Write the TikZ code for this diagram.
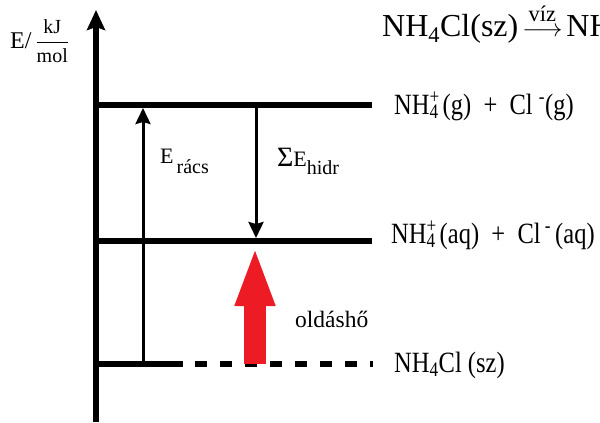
\documentclass[tikz,border=0pt]{standalone}
\usepackage{amsmath}
\usepackage{graphicx}
\usepackage{fontspec}
\setmainfont{Liberation Serif}
\usetikzlibrary{arrows.meta}
\definecolor{oldpiros}{RGB}{237,28,36}
\tikzset{
  tengely/.style={line width=6pt, -{Stealth[length=20pt, width=18pt, inset=3pt]}},
  szint/.style={line width=5.5pt},
  szaggatott/.style={line width=5.5pt, dash pattern=on 12pt off 13pt},
  nyil/.style={line width=3pt, -{Stealth[length=16pt, width=15pt, inset=2pt]}},
  oldnyil/.style={line width=22pt, color=oldpiros, -{Triangle[length=60pt, width=36pt]}},
  felirat/.style={anchor=base west, inner sep=0pt, font=\fontsize{22}{26}\selectfont},
  szintfelirat/.style={felirat, font=\fontsize{24.5}{28}\selectfont}
}
\newcommand{\nyujt}[1]{\scalebox{1}[1.2]{#1}}

\begin{document}
\begin{tikzpicture}[x=1pt, y=-1pt]
            \useasboundingbox (0,0) rectangle (600,423);

            % Tengely
            \coordinate (o) at (96,422);
            \coordinate (csucs) at (96,10);
            \draw [tengely] (o) -- (csucs);
            \node (egyseg) [anchor=base west, inner sep=0pt] at (10,48) {{\fontsize{24}{28}\selectfont E/}\hspace{4pt}{\fontsize{20}{24}\selectfont$\dfrac{\text{kJ}}{\text{mol}}$}};

            % Energiaszintek
            \coordinate (g1) at (96,105);
            \coordinate (g2) at (372,105);
            \coordinate (aq1) at (96,241);
            \coordinate (aq2) at (372,241);
            \coordinate (sz1) at (96,364);
            \coordinate (sz2) at (183,364);
            \coordinate (sz3) at (195,364);
            \coordinate (sz4) at (373,364);
            \draw [szint] (g1) -- (g2);
            \draw [szint] (aq1) -- (aq2);
            \draw [szint] (sz1) -- (sz2);
            \draw [szaggatott] (sz3) -- (sz4);

            % Feliratok
            \node (egyenlet) [anchor=base west, inner sep=0pt, font=\fontsize{32}{36}\selectfont] at (382,36) {NH\textsubscript{4}Cl(sz)\hspace{4pt}$\overset{\text{víz}}{\longrightarrow}$\hspace{4pt}NH};
            \node (gaz) [szintfelirat] at (394,114) {\nyujt{NH\rlap{\textsuperscript{+}}\textsubscript{4}\,(g) \ + \ Cl \textsuperscript{-}(g)}};
            \node (vizes) [szintfelirat] at (391,243) {\nyujt{NH\rlap{\textsuperscript{+}}\textsubscript{4}\,(aq) \ + \ Cl\textsuperscript{ -}\,(aq)}};
            \node (szilard) [szintfelirat] at (394,372) {\nyujt{NH\textsubscript{4}Cl (sz)}};

            % Nyilak
            \coordinate (racsA) at (143,364);
            \coordinate (racsB) at (143,108);
            \coordinate (hidrA) at (256,105);
            \coordinate (hidrB) at (256,238);
            \coordinate (oldA) at (255,364);
            \coordinate (oldB) at (255,246);
            \draw [nyil] (racsA) -- (racsB);
            \draw [nyil] (hidrA) -- (hidrB);
            \draw [oldnyil] (oldA) -- (oldB);

            \node (racs) [felirat] at (160,163) {E\hspace{3pt}\raisebox{-10pt}{\fontsize{20}{24}\selectfont rács}};
            \node (hidr) [felirat] at (277,166) {{\fontsize{28}{30}\selectfont Σ}E\raisebox{-8pt}{\fontsize{20}{24}\selectfont hidr}};
            \node (oldas) [felirat, font=\fontsize{23.5}{26}\selectfont] at (295,327) {oldáshő};
        \end{tikzpicture}
\end{document}
